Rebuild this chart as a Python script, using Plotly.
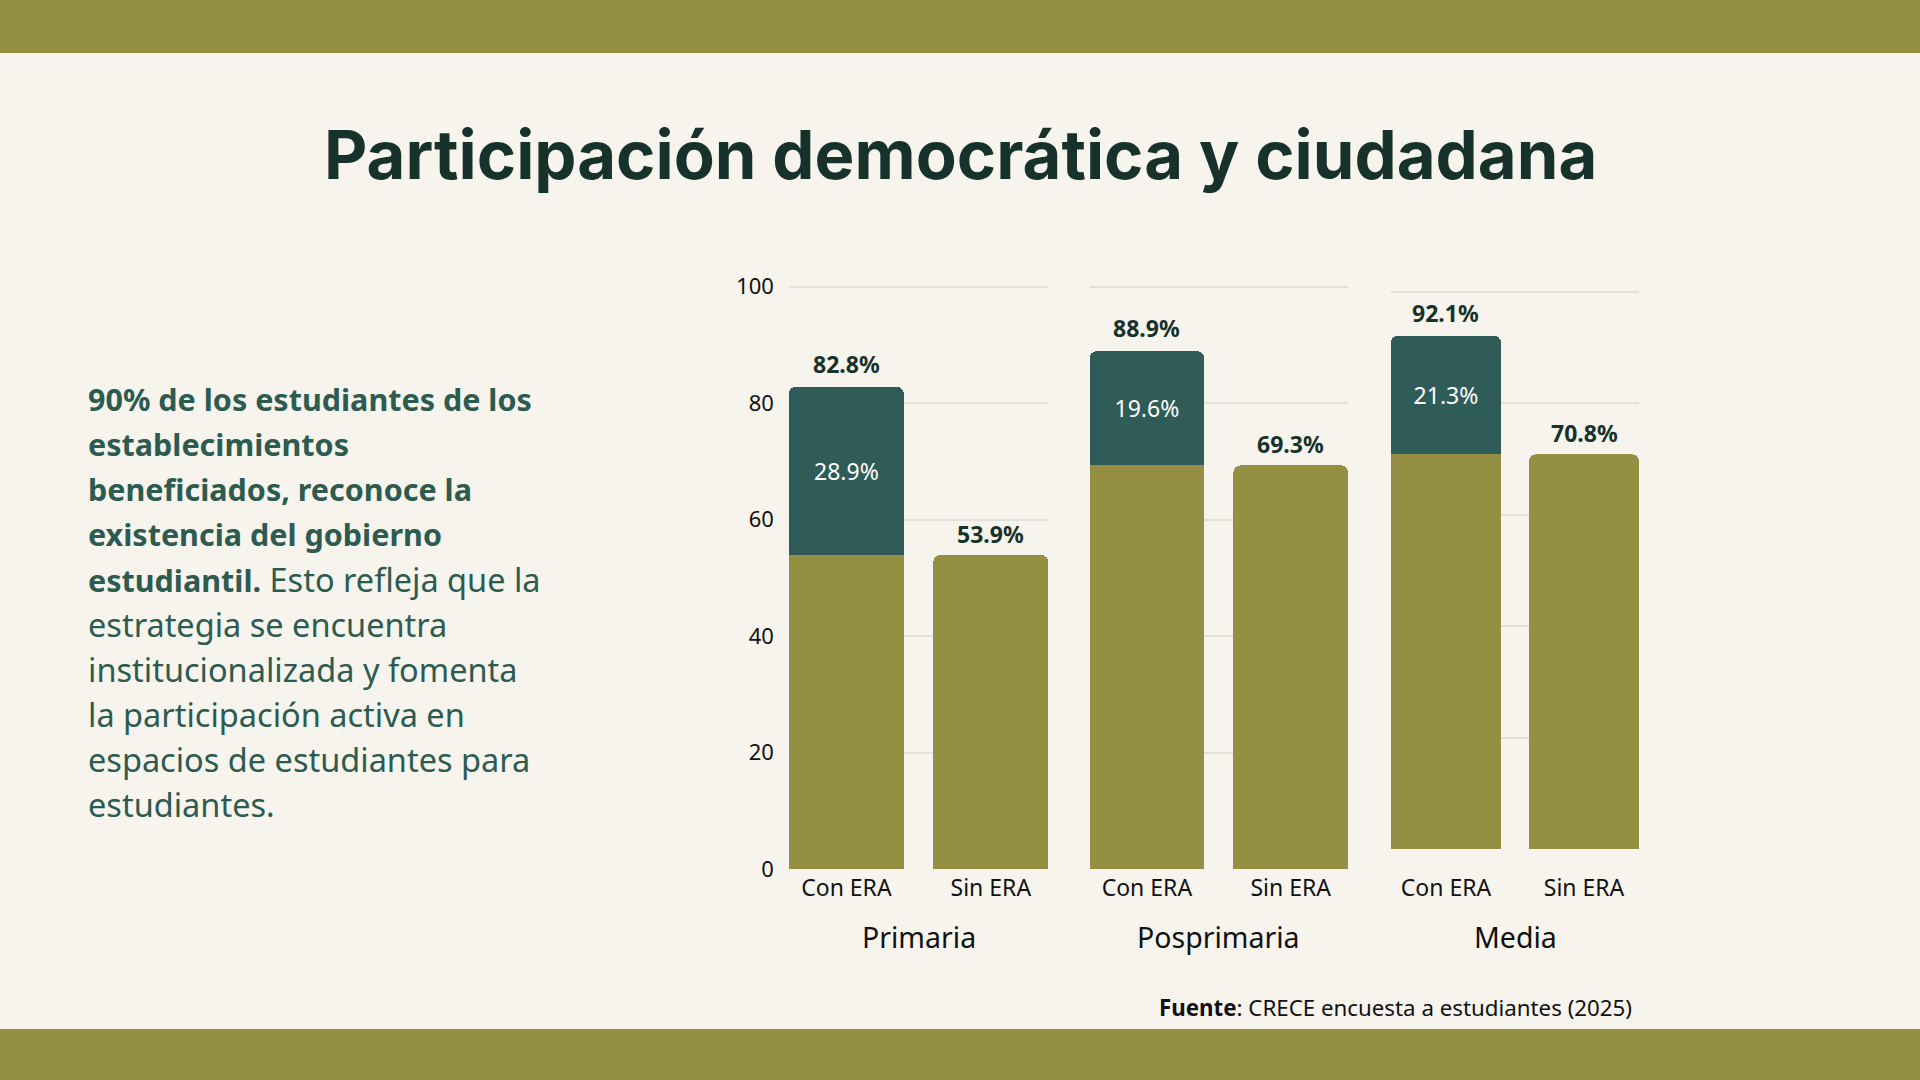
import plotly.graph_objects as go

# ---------------- data ----------------
niveles = ["Primaria", "Posprimaria", "Media"]
categorias = ["Con ERA", "Sin ERA"]
sin_era = [53.9, 69.3, 70.8]          # base (also value of "Sin ERA")
con_era = [82.8, 88.9, 92.1]          # total of "Con ERA"
diferencia = [28.9, 19.6, 21.3]       # extra portion of "Con ERA"
y_ticks = [0, 20, 40, 60, 80, 100]

titulo = "Participación democrática y ciudadana"
fuente = "<b>Fuente</b>: CRECE encuesta a estudiantes (2025)"
B = '<span style="font-size:30.5px"><b>{}</b></span>'
parrafo = [
    B.format("90% de los estudiantes de los"),
    B.format("establecimientos"),
    B.format("beneficiados, reconoce la"),
    B.format("existencia del gobierno"),
    B.format("estudiantil.") + " Esto refleja que la",
    "estrategia se encuentra",
    "institucionalizada y fomenta",
    "la participación activa en",
    "espacios de estudiantes para",
    "estudiantes.",
]

# ---------------- style ----------------
W, H = 1920, 1080
BG = "#F6F4ED"
OLIVE = "#958F44"
TEAL = "#2F5C58"
DARK = "#17322A"
TXT = "#2D5B50"
GRID = "#E3E0D8"
FONT = "Noto Sans"

def px_x(p):
    return p / W

def px_y(p):
    return 1 - p / H

# panel geometry (pixels)
x_dom = [(788.9, 1048.3), (1089.6, 1348.0), (1391.0, 1639.0)]
y_dom = [(869.0, 280.7), (869.0, 280.7), (849.0, 286.0)]
standoff = [3, 3, 23]

fig = go.Figure()
half = 0.3982
for i in range(3):
    xa = "x" if i == 0 else f"x{i+1}"
    ya = "y" if i == 0 else f"y{i+1}"
    fig.add_trace(go.Bar(
        x=categorias, y=[sin_era[i], sin_era[i]],
        xaxis=xa, yaxis=ya, marker=dict(color=OLIVE, line=dict(width=0)),
        hoverinfo="skip", showlegend=False,
    ))
    fig.add_trace(go.Bar(
        x=[categorias[0]], y=[diferencia[i]],
        xaxis=xa, yaxis=ya, marker=dict(color=TEAL, line=dict(width=0)),
        text=[f"{diferencia[i]:.1f}%"], textposition="inside",
        insidetextanchor="middle",
        textfont=dict(family=FONT, size=23, color="white"),
        hoverinfo="skip", showlegend=False,
    ))
    # totals
    fig.add_annotation(x=categorias[0], y=con_era[i], xref=xa, yref=ya,
                       text=f"<b>{con_era[i]:.1f}%</b>", showarrow=False,
                       yanchor="middle", yshift=23,
                       font=dict(family=FONT, size=23, color=DARK))
    fig.add_annotation(x=categorias[1], y=sin_era[i], xref=xa, yref=ya,
                       text=f"<b>{sin_era[i]:.1f}%</b>", showarrow=False,
                       yanchor="middle", yshift=21,
                       font=dict(family=FONT, size=23, color=DARK))
    # group label
    fig.add_annotation(x=0.5, xref=f"{xa} domain", y=px_y(937), yref="paper",
                       text=niveles[i], showarrow=False, yanchor="middle",
                       font=dict(family=FONT, size=28.5, color="#111111"))

    xkey = "xaxis" if i == 0 else f"xaxis{i+1}"
    ykey = "yaxis" if i == 0 else f"yaxis{i+1}"
    fig.update_layout(**{
        xkey: dict(domain=[px_x(x_dom[i][0]), px_x(x_dom[i][1])],
                   range=[-half, 1 + half], anchor=ya, showgrid=False,
                   showline=False, zeroline=False, ticks="",
                   ticklabelstandoff=standoff[i],
                   tickfont=dict(family=FONT, size=23, color="#111111"),
                   fixedrange=True),
        ykey: dict(domain=[px_y(y_dom[i][0]), px_y(y_dom[i][1])],
                   range=[0, 101], anchor=xa, tickvals=y_ticks,
                   showticklabels=(i == 0), showgrid=True, gridcolor=GRID,
                   gridwidth=1.5, zeroline=False, showline=False, ticks="",
                   ticklabelstandoff=14,
                   tickfont=dict(family=FONT, size=22, color="#111111"),
                   fixedrange=True),
    })

# title
fig.add_annotation(x=0.5, y=px_y(154.5), xref="paper", yref="paper",
                   text=f"<b>{titulo}</b>", showarrow=False,
                   xanchor="center", yanchor="middle",
                   font=dict(family="Inter", size=67, color=DARK))

# paragraph
for k, line in enumerate(parrafo):
    base = 409 + k * 45.1
    fig.add_annotation(x=px_x(86), y=px_y(base - 10), xref="paper", yref="paper",
                       text=line, showarrow=False, xanchor="left",
                       yanchor="middle", align="left",
                       font=dict(family="Noto Sans", size=32.5, color=TXT))

# source
fig.add_annotation(x=px_x(1634), y=px_y(1007), xref="paper", yref="paper",
                   text=fuente, showarrow=False, xanchor="right",
                   yanchor="middle",
                   font=dict(family=FONT, size=22.3, color="#111111"))

# bands
fig.add_shape(type="rect", xref="paper", yref="paper", x0=0, x1=1,
              y0=px_y(53), y1=1, fillcolor=OLIVE, line=dict(width=0),
              layer="below")
fig.add_shape(type="rect", xref="paper", yref="paper", x0=0, x1=1,
              y0=0, y1=px_y(1029), fillcolor=OLIVE, line=dict(width=0),
              layer="below")

fig.update_layout(
    width=W, height=H,
    margin=dict(l=0, r=0, t=0, b=0, pad=0, autoexpand=False),
    paper_bgcolor=BG, plot_bgcolor="rgba(0,0,0,0)",
    barmode="stack", bargap=0.2036, barcornerradius=7,
    showlegend=False,
)

fig.write_html("out.html", config={"displayModeBar": False})
